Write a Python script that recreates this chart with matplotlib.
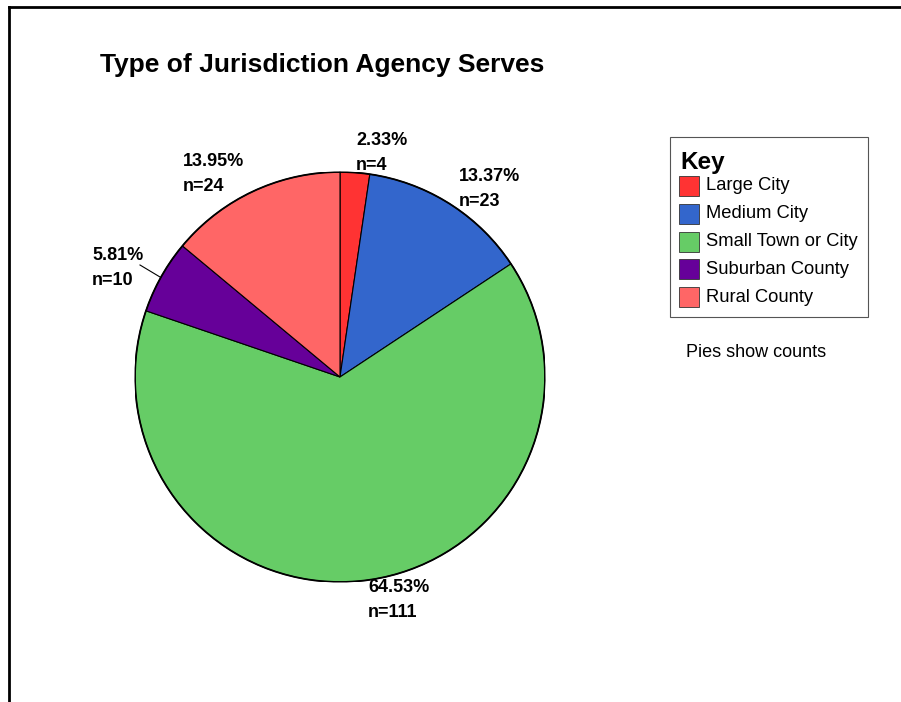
import matplotlib.pyplot as plt
from matplotlib.lines import Line2D
from matplotlib.patches import Rectangle

plt.rcParams['font.family'] = ['Liberation Sans', 'DejaVu Sans']

categories = ['Large City', 'Medium City', 'Small Town or City', 'Suburban County', 'Rural County']
counts = [4, 23, 111, 10, 24]
colors = ['#FF3333', '#3366CC', '#66CC66', '#660099', '#FF6666']

# label block centres (pixels, top-left origin)
label_pos = [(356, 153), (459, 189), (368, 600), (92, 268), (183, 174)]

W, H = 901, 702


def px(x, y):
    return x / W, 1 - y / H


fig = plt.figure(figsize=(W / 100, H / 100), dpi=100)

# pie axes: centre (340, 377), radius 205 px
cx, cy, r = 340, 377, 205
ax = fig.add_axes([(cx - r) / W, 1 - (cy + r) / H, 2 * r / W, 2 * r / H])
wedges, _ = ax.pie(counts, colors=colors, startangle=90, counterclock=False,
                   radius=1, wedgeprops=dict(edgecolor='black', linewidth=0.8))
ax.add_patch(plt.Circle((0, 0), 1, fill=False, edgecolor='black', lw=1.3))
ax.set_xlim(-1, 1)
ax.set_ylim(-1, 1)
ax.set_aspect('equal')
ax.axis('off')

total = sum(counts)
for c, (x, y) in zip(counts, label_pos):
    fig.text(*px(x, y), f"{100 * c / total:.2f}%\nn={c}", ha='left', va='center',
             fontsize=13, fontweight='bold', linespacing=1.55)

# leader line for the small purple slice
fig.add_artist(Line2D([140 / W, 160 / W], [1 - 265 / H, 1 - 277 / H], color='black', lw=0.8))

# title
fig.text(*px(100, 65), 'Type of Jurisdiction Agency Serves', ha='left', va='center',
         fontsize=19, fontweight='bold')

# key box
fig.add_artist(Rectangle(px(670, 317), 198 / W, 180 / H, fill=False, edgecolor='#555555', lw=0.8))
fig.text(*px(680, 162), 'Key', ha='left', va='center', fontsize=17.5, fontweight='bold')
for i, (name, col) in enumerate(zip(categories, colors)):
    yy = 186 + i * 27.8
    fig.add_artist(Rectangle(px(679, yy + 10), 20 / W, 20 / H, facecolor=col,
                             edgecolor='#333333', lw=0.6))
    fig.text(*px(706, yy), name, ha='left', va='center', fontsize=13.2)

fig.text(*px(686, 353), 'Pies show counts', ha='left', va='center', fontsize=13)

# outer frame (left and top only)
fig.add_artist(Line2D([9 / W, 9 / W], [0, 1 - 7 / H], color='black', lw=2))
fig.add_artist(Line2D([9 / W, 1], [1 - 7 / H, 1 - 7 / H], color='black', lw=2))

fig.savefig('out.png', dpi=100)
